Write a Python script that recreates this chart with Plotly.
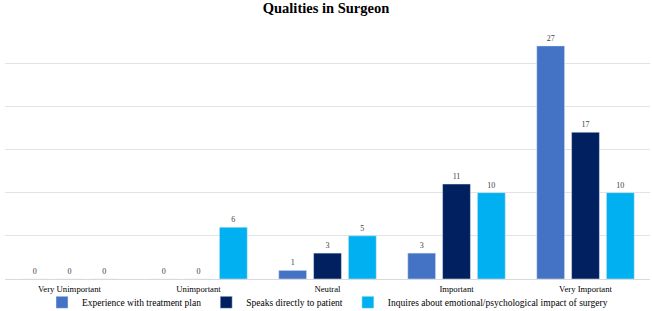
import plotly.graph_objects as go

categories = ["Very Unimportant", "Unimportant", "Neutral", "Important", "Very Important"]
series_names = ["Experience with treatment plan", "Speaks directly to patient",
                "Inquires about emotional/psychological impact of surgery"]
experience = [0, 0, 1, 3, 27]
speaks = [0, 0, 3, 11, 17]
inquires = [0, 6, 5, 10, 10]
colors = ["#4472C4", "#002060", "#00B0F0"]

fig = go.Figure()
for name, vals, col in zip(series_names, [experience, speaks, inquires], colors):
    fig.add_trace(go.Bar(
        x=categories, y=vals, name=name, marker_color=col,
        text=[str(v) for v in vals], textposition="outside",
        textfont=dict(family="Liberation Serif", size=8, color="#404040"),
        cliponaxis=False,
    ))

fig.update_layout(
    width=652, height=311,
    margin=dict(l=5, r=2, t=20, b=32, autoexpand=False),
    paper_bgcolor="white", plot_bgcolor="white",
    title=dict(text="<b>Qualities in Surgeon</b>", x=0.5, xanchor="center",
               y=0.99, yanchor="top",
               font=dict(family="Liberation Serif", size=14.5, color="#000000")),
    barmode="group", bargap=0.19, bargroupgap=0.2,
    font=dict(family="Liberation Serif", size=9.5, color="#000000"),
    showlegend=True,
    legend=dict(orientation="h", x=0.5, xanchor="center", y=-0.09, yanchor="middle",
                bgcolor="rgba(0,0,0,0)",
                font=dict(family="Liberation Serif", size=9.5, color="#000000"),
                itemwidth=30, tracegroupgap=0),
    xaxis=dict(showgrid=False, showline=False, ticks="outside", ticklen=2,
               tickcolor="rgba(0,0,0,0)",
               tickfont=dict(family="Liberation Serif", size=8.7, color="#000000")),
    yaxis=dict(range=[0, 30], dtick=5, showticklabels=False, showgrid=True,
               gridcolor="#E3E3E3", gridwidth=1, zeroline=True, zerolinecolor="#D9D9D9",
               zerolinewidth=1, showline=False),
)

fig.write_html("out.html", config={"displayModeBar": False},
               post_script="document.body.style.margin='0';document.body.style.overflow='hidden';")
